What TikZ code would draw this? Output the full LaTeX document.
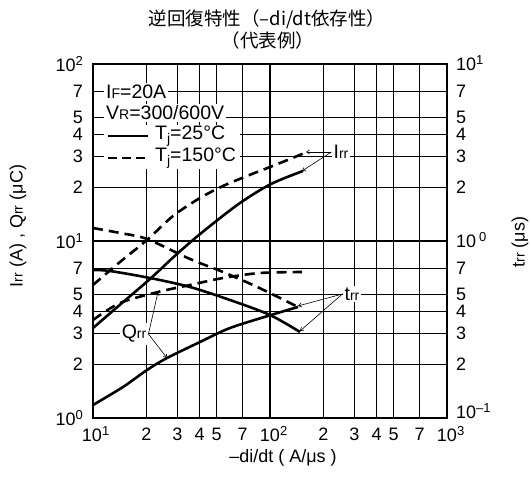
\documentclass[tikz,border=0pt]{standalone}
\usepackage{fontspec}
\setmainfont{Liberation Sans}
\newfontfamily\cjk{Noto Sans CJK JP}
\usetikzlibrary{arrows.meta}
\newcommand\lsub[1]{{\fontsize{14}{14}\selectfont #1}}
\newcommand\jsub[1]{\raisebox{-3.5pt}{\fontsize{14}{14}\selectfont #1}}
\newcommand\sps[1]{\raisebox{6.5pt}{\fontsize{13}{13}\selectfont #1}}
\begin{document}
\begin{tikzpicture}[x=1pt,y=-1pt,
  every node/.style={font=\fontsize{18}{21}\selectfont, inner sep=1pt},
  legfont/.style={font=\fontsize{19.5}{22}\selectfont},
  grid/.style={line width=0.9pt, black},
  decgrid/.style={line width=1.4pt, black},
  frame/.style={line width=2.6pt, black},
  curve/.style={line width=2.6pt, line join=round, line cap=butt},
  dcurve/.style={curve, dash pattern=on 10pt off 6pt},
  leader/.style={line width=0.6pt, -{Straight Barb[length=3pt,width=4pt]}},
  lab/.style={fill=white, inner sep=2pt},
]
\useasboundingbox (0,0) rectangle (531,494);
% ---------- grid ----------
\foreach \v in {2,3,4,5,7}{
  \draw[grid] ({93+177*log10(\v)},64) -- ({93+177*log10(\v)},418);
  \draw[grid] ({270+177*log10(\v)},64) -- ({270+177*log10(\v)},418);
  \draw[grid] (93,{418-177*log10(\v)}) -- (447,{418-177*log10(\v)});
  \draw[grid] (93,{241-177*log10(\v)}) -- (447,{241-177*log10(\v)});
}
\draw[decgrid] (270,64) -- (270,418);
\draw[decgrid] (93,241) -- (447,241);
% ---------- curves ----------
% Irr, Tj=25C
\draw[curve] plot[smooth, tension=0.5] coordinates {(93,328) (122,303) (150,279) (178,253) (205,230) (240,203) (271,184) (303,171)};
\coordinate (irrS) at (302,171);
% Irr, Tj=150C
\draw[dcurve] plot[smooth, tension=0.5] coordinates {(93,285) (120,262) (147,240) (173,216) (200,198) (223,186) (247,176) (270,167) (290,159) (307,152)};
\coordinate (irrD) at (306,152);
% trr, Tj=150C
\draw[dcurve] plot[smooth, tension=0.5] coordinates {(93,228) (120,233) (147,239) (190,259) (223,272) (253,285) (280,298) (298,307)};
\coordinate (trrD) at (298,306);
% trr, Tj=25C
\draw[curve] plot[smooth, tension=0.5] coordinates {(93,270) (110,271) (150,278) (190,287) (230,300) (270,315) (300,332)};
\coordinate (trrS) at (300,331);
% Qrr, Tj=150C
\draw[dcurve] plot[smooth, tension=0.5] coordinates {(93,320) (120,303) (158,292) (190,285) (223,278) (260,273) (302,272)};
\coordinate (qrrD) at (158,292);
% Qrr, Tj=25C
\draw[curve] plot[smooth, tension=0.5] coordinates {(93,405) (123,387) (147,370) (167,358) (200,342) (230,328) (271,315) (298,307)};
\coordinate (qrrS) at (167,358);
% ---------- curve labels ----------
\node[lab, legfont] (irr) at (341,152) {I\lsub{rr}};
\node[lab, legfont] (trr) at (352,294) {t\lsub{rr}};
\node[lab, legfont] (qrr) at (134,334) {Q\lsub{rr}};
\draw[leader] (irr.west) -- (irrD);
\draw[leader] (irr.west) -- (irrS);
\draw[leader] (trr.west) -- (trrD);
\draw[leader] (trr.west) -- (trrS);
\draw[leader] (qrr.east) -- (qrrD);
\draw[leader] (qrr.east) -- (qrrS);
% ---------- legend ----------
\node[lab, legfont, anchor=west] (lgIF) at (104,92) {I\lsub{F}=20A};
\node[lab, legfont, anchor=west] (lgVR) at (104,113) {V\lsub{R}=300/600V};
\fill[white] (104,125) rectangle (240,169);
\coordinate (l3a) at (108,136); \coordinate (l3b) at (148,136);
\coordinate (l4a) at (108,158); \coordinate (l4b) at (148,158);
\draw[curve] (l3a) -- (l3b);
\draw[curve, dash pattern=on 9pt off 5pt] (l4a) -- (l4b);
\node[legfont, anchor=west] (lg25) at (154,136) {T\jsub{j}=25°C};
\node[legfont, anchor=west] (lg150) at (154,158) {T\jsub{j}=150°C};
% ---------- frame ----------
\draw[frame] (93,64) rectangle (447,418);
% ---------- tick labels ----------
\foreach \y/\t [count=\i] in {64/10\sps{2}, 91.4/7, 117.3/5, 134.4/4, 156.5/3, 187.7/2, 241/10\sps{1}, 268.4/7, 294.3/5, 311.4/4, 333.5/3, 364.7/2, 418/10\sps{0}}
  \node[anchor=east] (yl\i) at (84,\y) {\t};
\foreach \y/\t [count=\i] in {63/10\sps{1}, 91.4/7, 117.3/5, 134.4/4, 156.5/3, 187.7/2, 240/10\,\sps{0}, 268.4/7, 294.3/5, 311.4/4, 333.5/3, 364.7/2, 411/10\sps{–1}}
  \node[anchor=west] (yr\i) at (455,\y) {\t};
\foreach \x/\t [count=\i] in {92/10\rlap{\sps{1}}, 146.3/2, 177.5/3, 199.6/4, 216.7/5, 242.6/7, 270/10\rlap{\sps{2}}, 323.3/2, 354.5/3, 376.6/4, 393.7/5, 419.6/7, 447/10\rlap{\sps{3}}}
  \node (xl\i) at (\x,434) {\t};
% ---------- axis titles ----------
\node[rotate=90] (ylab) at (18,226) {I\lsub{rr} (A) , Q\lsub{rr} (μC)};
\node[rotate=90] (yrlab) at (520,242) {t\lsub{rr} (μs)};
\node (xlab) at (283,458) {–di/dt ( A/μs )};
% ---------- title ----------
\node[font=\cjk\fontsize{18.5}{22}\selectfont] (t1) at (267,19) {逆回復特性（–di/dt依存性）};
\node[font=\cjk\fontsize{18.5}{22}\selectfont] (t2) at (268,40) {（代表例）};
\end{tikzpicture}
\end{document}
